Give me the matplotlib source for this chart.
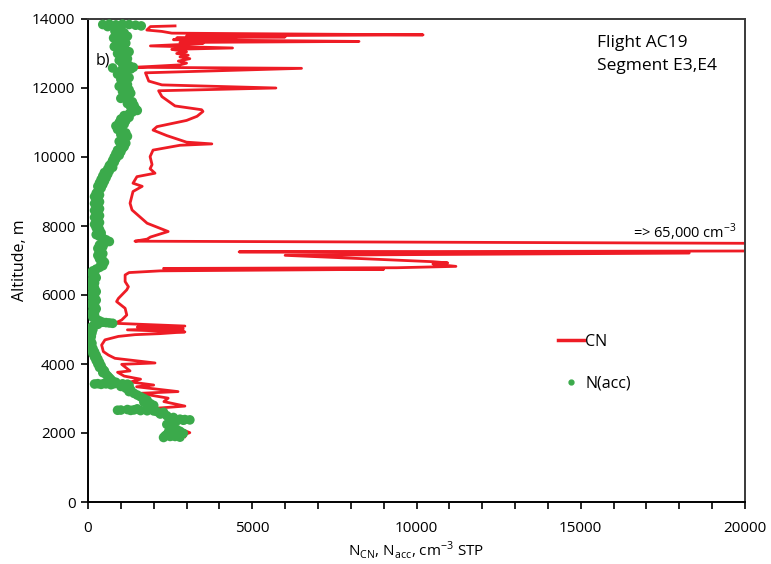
import matplotlib
matplotlib.use("Agg")
import matplotlib.pyplot as plt
from matplotlib.ticker import MultipleLocator, FuncFormatter
from matplotlib.lines import Line2D

plt.rcParams['font.family'] = ['Open Sans', 'DejaVu Sans']

# ---- CN (red line), values in cm-3, altitude in m, ordered along the profile ----
cn_val = [2650, 1900, 1790, 2250, 2550, 10200, 3000, 6000, 2700, 4500, 2600, 8250, 2800, 3500,
          1900, 4400, 2550, 3000, 2700, 3050, 2800, 3100, 2750, 3000, 2800, 1430, 6500, 1750,
          1850, 2250, 5720, 2150, 2250, 2650, 3460, 3500, 3320, 3000, 2100, 1980, 2400, 3000,
          3770, 2800, 1980, 1890, 1950, 1890, 2040, 1490, 1370, 1650, 1370, 1280, 1340, 1800,
          2440, 1900, 1800, 1430, 65000, 4600, 18300, 6000, 10500, 10950, 10500, 11200, 9400,
          2300, 9000, 2200, 1250, 1130, 1130, 1230, 1180, 925, 870, 1130, 1180, 1025, 820,
          2950, 1500, 2900, 1200, 2950, 2190, 1430, 925, 517, 415, 467, 620, 820, 2040, 1025,
          1280, 900, 1100, 1600, 1300, 2000, 1480, 2740, 1580, 2440, 2310, 2950, 2110, 2110,
          2530, 2740, 3100, 2890, 2950]
cn_alt = [13800, 13780, 13680, 13640, 13590, 13540, 13510, 13480, 13450, 13420, 13400, 13350,
          13320, 13290, 13220, 13160, 13120, 13050, 13000, 12950, 12900, 12850, 12780, 12720,
          12670, 12600, 12570, 12440, 12200, 12090, 12000, 11920, 11750, 11480, 11370, 11320,
          11180, 11060, 10880, 10780, 10620, 10430, 10380, 10340, 10200, 10010, 9780, 9660,
          9530, 9430, 9240, 9150, 9000, 8660, 8465, 8080, 7840, 7680, 7620, 7560, 7350, 7250,
          7215, 7150, 6965, 6930, 6900, 6830, 6790, 6770, 6745, 6700, 6650, 6580, 6390, 6240,
          6150, 5900, 5810, 5615, 5420, 5275, 5180, 5100, 5070, 5020, 4990, 4930, 4880, 4850,
          4800, 4700, 4550, 4360, 4260, 4165, 4030, 3990, 3800, 3760, 3650, 3560, 3480, 3390,
          3340, 3200, 3150, 3010, 2910, 2780, 2720, 2620, 2380, 2140, 2010, 1940, 1895]

# ---- N(acc) (green points) ----
acc_alt = [13840, 13850, 13830, 13850, 13840, 13820, 13800, 13780, 13760,
           13700, 13650, 13600, 13550, 13500, 13450, 13400, 13350, 13300, 13250, 13200, 13150,
           13100, 13050, 13000,
           12950, 12900, 12850, 12800, 12750, 12700, 12650, 12600, 12580, 12550, 12500, 12450,
           12400, 12350, 12300, 12250, 12200, 12150, 12100, 12050, 12000,
           11950, 11900, 11850, 11800, 11750, 11700, 11650, 11600, 11550, 11500, 11450, 11400,
           11350, 11300, 11250, 11200, 11150, 11100, 11050, 11000,
           10950, 10900, 10850, 10800, 10750, 10700, 10650, 10600, 10550, 10500, 10450, 10400,
           10350, 10300, 10250, 10200, 10150, 10100, 10050, 10000,
           9950, 9900, 9850, 9800, 9750, 9700, 9650, 9600, 9550, 9500, 9450, 9400, 9350, 9300,
           9250, 9200, 9150, 9100, 9050, 9000,
           8950, 8900, 8850, 8800, 8750, 8700, 8650, 8600, 8550, 8500, 8450, 8400, 8350, 8300,
           8250, 8200, 8150, 8100, 8050, 8000,
           7950, 7900, 7850, 7800, 7750, 7700, 7650, 7600, 7550, 7500, 7450, 7400, 7350, 7300,
           7250, 7200, 7150, 7100, 7050, 7000,
           6950, 6900, 6850, 6800, 6750, 6700, 6650, 6600, 6550, 6500, 6450, 6400, 6350, 6300,
           6250, 6200, 6150, 6100, 6050, 6000,
           5950, 5900, 5850, 5800, 5750, 5700, 5650, 5600, 5550, 5500, 5450, 5400, 5350, 5300,
           5250, 5200, 5180, 5150, 5190, 5210,
           5100, 5050, 5000, 4950, 4900, 4850, 4800, 4750, 4700, 4650, 4600, 4550, 4500, 4450,
           4400,
           4350, 4300, 4250, 4200, 4150, 4100, 4050, 4000, 3950, 3900, 3850, 3800, 3750, 3700,
           3650,
           3600, 3550, 3500, 3470, 3440, 3420, 3410, 3400, 3390, 3380, 3350, 3300, 3250, 3200,
           3150, 3100, 3050, 3000, 2950, 2900, 2850, 2800, 2750, 2700, 2680, 2660, 2650, 2620,
           2600, 2550, 2500, 2450, 2400, 2380, 2350, 2300, 2250, 2200, 2150, 2100, 2050, 2000,
           1950, 1900, 1880, 1870,
           3430, 3425, 3430, 3425, 3415,
           2665, 2655, 2645, 2640, 2670,
           2390, 2370,
           1900, 1920, 1960, 1990, 2030]
acc_val = [450, 650, 850, 1050, 1250, 1450, 1620, 600, 900,
           1000, 820, 1100, 900, 1200, 780, 1000, 870, 1150, 1050, 800, 1100,
           950, 1250, 900,
           1100, 1000, 1200, 950, 1150, 1050, 1250, 1380, 750, 1300, 1000, 1150,
           900, 1100, 1250, 1000, 1150, 1050, 1200, 950, 1100,
           1250, 1050, 1300, 1150, 1200, 1000, 1250, 1350, 1200, 1400, 1300, 1450,
           1500, 1350, 1250, 1100, 1250, 1000, 1150, 950,
           1100, 850, 1000, 900, 1050, 1150, 1000, 1200, 1050, 1100, 950, 1150,
           1000, 1100, 1050, 900, 1000, 850, 950, 800,
           850, 750, 800, 700, 650, 750, 600, 650, 500, 600, 450, 550, 400, 500,
           350, 450, 300, 400, 350, 300,
           250, 350, 200, 300, 250, 350, 200, 300, 250, 350, 200, 300, 250, 350,
           200, 300, 250, 350, 200, 300,
           250, 350, 300, 400, 250, 350, 450, 550, 650, 500, 350, 450, 300, 400,
           350, 450, 300, 400, 350, 450,
           500, 400, 450, 350, 250, 150, 100, 200, 150, 250, 150, 100, 200, 150,
           100, 200, 150, 250, 150, 100,
           200, 150, 250, 150, 100, 200, 150, 250, 150, 200, 100, 200, 150, 250,
           350, 550, 750, 300, 650, 450,
           150, 80, 150, 50, 120, 60, 100, 40, 80, 50, 120, 60, 100, 150,
           120,
           200, 150, 250, 200, 300, 250, 350, 300, 400, 350, 450, 500, 450, 550,
           600,
           650, 700, 750, 850, 500, 200, 400, 700, 1000, 1250, 1000, 1150, 1300, 1250,
           1400, 1500, 1600, 1700, 1800, 1700, 1900, 2000, 1800, 1500, 1200, 900, 1600, 2100,
           2300, 2200, 2400, 2600, 2800, 3100, 2700, 2500, 2400, 2600, 2500, 2700, 2800, 2600,
           2400, 2500, 2800, 2300,
           300, 550, 800, 1050, 1200,
           1000, 1300, 1800, 2000, 1400,
           2950, 2900,
           2650, 2350, 2700, 2900, 2450]

RED = '#EE1C25'
GREEN = '#3BAA4B'

fig = plt.figure(figsize=(7.71, 5.64), dpi=100)
ax = fig.add_axes([88/771, 1-502/564, (745-88)/771, (502-19)/564])

ax.plot(cn_val, cn_alt, color=RED, lw=2.0, solid_joinstyle='round', zorder=2, label='CN')
ax.scatter(acc_val, acc_alt, s=48, color=GREEN, edgecolors='none', zorder=3, label='N(acc)')

ax.set_xlim(0, 20000)
ax.set_ylim(0, 14000)
ax.xaxis.set_major_locator(MultipleLocator(5000))
ax.xaxis.set_minor_locator(MultipleLocator(1000))
ax.yaxis.set_major_locator(MultipleLocator(2000))
ax.xaxis.set_major_formatter(FuncFormatter(lambda v, p: f"{int(v)}"))
ax.yaxis.set_major_formatter(FuncFormatter(lambda v, p: f"{int(v)}"))
ax.tick_params(axis='both', which='both', direction='out', length=5, width=1.2,
               labelsize=11, color='black')
ax.tick_params(axis='x', pad=9)
ax.tick_params(axis='y', pad=4)
ax.tick_params(top=False, right=False)

for side in ['left', 'bottom']:
    ax.spines[side].set_color('black')
    ax.spines[side].set_linewidth(1.4)
for side in ['top', 'right']:
    ax.spines[side].set_color('#3a3a3a')
    ax.spines[side].set_linewidth(1.4)

ax.set_ylabel('Altitude, m', fontsize=11.5, labelpad=3)
ax.set_xlabel(r'N$_{\mathregular{CN}}$, N$_{\mathregular{acc}}$, cm$^{\mathregular{-3}}$ STP',
              fontsize=11, labelpad=2)

ax.text(0.012, 0.915, 'b)', transform=ax.transAxes, fontsize=11.5, va='center', ha='left')
ax.text(0.775, 0.950, 'Flight AC19', transform=ax.transAxes, fontsize=12.5,
        va='center', ha='left')
ax.text(0.775, 0.903, 'Segment E3,E4', transform=ax.transAxes, fontsize=12.5,
        va='center', ha='left')
ax.text(19750, 7820, r'=> 65,000 cm$^{\mathregular{-3}}$', fontsize=10.5, ha='right', va='center')

handles = [Line2D([], [], color=RED, lw=2.5),
           Line2D([], [], color=GREEN, marker='o', ls='none', markersize=3.5)]
leg = ax.legend(handles, ['CN', 'N(acc)'], loc='upper left', frameon=False,
                bbox_to_anchor=(558/771, 1-334/564), bbox_transform=fig.transFigure,
                fontsize=11.5, handlelength=1.6, handletextpad=0.1, labelspacing=1.6,
                borderpad=0, borderaxespad=0)

fig.savefig('out.png', dpi=100)
